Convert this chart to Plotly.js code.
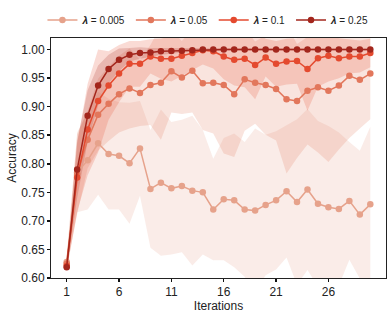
<!DOCTYPE html>
<html>
<head>
<meta charset="utf-8">
<script src="https://cdn.plot.ly/plotly-3.0.1.min.js"></script>
<style>html,body{margin:0;padding:0;background:#fff;}#chart{width:391px;height:314px;}</style>
</head>
<body>
<div id="chart"></div>
<script>
const iterations = [1,2,3,4,5,6,7,8,9,10,11,12,13,14,15,16,17,18,19,20,21,22,23,24,25,26,27,28,29,30];
const seriesNames = ['<b><i>λ</i></b> = 0.005', '<b><i>λ</i></b> = 0.05', '<b><i>λ</i></b> = 0.1', '<b><i>λ</i></b> = 0.25'];
const acc0005 = [0.628,0.785,0.806,0.836,0.817,0.814,0.801,0.827,0.756,0.767,0.757,0.761,0.753,0.750,0.720,0.738,0.736,0.720,0.718,0.728,0.736,0.752,0.733,0.755,0.730,0.724,0.721,0.735,0.711,0.729];
const std0005 = [0.010,0.070,0.086,0.090,0.097,0.094,0.106,0.083,0.103,0.128,0.116,0.116,0.131,0.109,0.089,0.107,0.117,0.118,0.144,0.123,0.121,0.116,0.145,0.141,0.145,0.142,0.134,0.103,0.112,0.136];
const acc005 = [0.625,0.782,0.842,0.886,0.905,0.922,0.932,0.924,0.938,0.942,0.962,0.951,0.963,0.941,0.942,0.938,0.922,0.948,0.942,0.938,0.931,0.913,0.910,0.928,0.934,0.928,0.937,0.954,0.947,0.958];
const std005 = [0.010,0.070,0.050,0.063,0.065,0.067,0.070,0.058,0.070,0.100,0.072,0.064,0.073,0.082,0.089,0.120,0.110,0.090,0.072,0.087,0.090,0.130,0.100,0.094,0.114,0.125,0.112,0.109,0.085,0.080];
const acc01 = [0.621,0.776,0.860,0.910,0.937,0.958,0.975,0.975,0.988,0.984,0.984,0.989,0.994,0.999,0.997,0.988,0.982,0.984,0.973,0.986,0.975,0.979,0.980,0.966,0.985,0.989,0.985,0.988,0.988,0.994];
const std01 = [0.006,0.060,0.080,0.090,0.060,0.050,0.040,0.040,0.030,0.035,0.040,0.035,0.030,0.025,0.030,0.040,0.045,0.050,0.060,0.033,0.040,0.040,0.040,0.073,0.050,0.045,0.035,0.030,0.028,0.025];
const acc025 = [0.619,0.790,0.884,0.937,0.966,0.982,0.991,0.994,0.995,0.997,0.9975,0.998,0.999,1.000,1.000,1.000,1.000,1.000,1.000,1.000,1.000,1.000,1.000,1.000,1.000,1.000,1.000,1.000,1.000,1.000];
const std025 = [0.005,0.050,0.045,0.035,0.025,0.020,0.012,0.010,0.008,0.006,0.005,0.004,0.003,0.002,0.002,0.002,0.002,0.002,0.002,0.002,0.002,0.002,0.002,0.002,0.002,0.002,0.002,0.002,0.002,0.002];
const yTicks = [0.60,0.65,0.70,0.75,0.80,0.85,0.90,0.95,1.00];
const xTicks = [1,6,11,16,21,26];

const colors = ['#e6a28b','#e2775c','#e44a2f','#a3261c'];
const fills = ['rgba(230,162,139,0.2)','rgba(226,119,92,0.2)','rgba(228,74,47,0.2)','rgba(163,38,28,0.2)'];
const means = [acc0005, acc005, acc01, acc025];
const stds = [std0005, std005, std01, std025];

const traces = [];
means.forEach((m, i) => {
  const up = m.map((v, k) => v + stds[i][k]);
  const lo = m.map((v, k) => v - stds[i][k]);
  traces.push({x: iterations, y: up, type: 'scatter', mode: 'lines', line: {width: 0, color: fills[i]}, showlegend: false, hoverinfo: 'skip'});
  traces.push({x: iterations, y: lo, type: 'scatter', mode: 'lines', line: {width: 0, color: fills[i]}, fill: 'tonexty', fillcolor: fills[i], showlegend: false, hoverinfo: 'skip'});
});
means.forEach((m, i) => {
  traces.push({x: iterations, y: m, type: 'scatter', mode: 'lines+markers', name: seriesNames[i],
    line: {color: colors[i], width: 1.5}, marker: {color: colors[i], size: 6.5}});
});

const font = {family: 'Liberation Sans, Arial, Helvetica, sans-serif', size: 12, color: '#222'};
const layout = {
  width: 391, height: 314,
  margin: {l: 51, r: 5, t: 30, b: 36},
  paper_bgcolor: '#fff', plot_bgcolor: '#fff',
  font: font,
  showlegend: true,
  legend: {orientation: 'h', traceorder: 'normal', x: 0.47, xanchor: 'center', y: 1.075, yanchor: 'middle',
    font: {family: font.family, size: 10, color: '#222'}, itemwidth: 30, tracegroupgap: 0},
  xaxis: {range: [-0.5, 31.5], tickvals: xTicks, ticktext: xTicks.map(String), ticks: 'outside', ticklen: 3, tickwidth: 1.5,
    tickcolor: '#111', showline: true, linecolor: '#222', linewidth: 1, mirror: true, showgrid: false, zeroline: false,
    title: {text: 'Iterations', font: font, standoff: 1}},
  yaxis: {range: [0.60, 1.0203], tickvals: yTicks, ticktext: yTicks.map(v => v.toFixed(2)), ticks: 'outside', ticklen: 3, tickwidth: 1.5,
    tickcolor: '#111', showline: true, linecolor: '#222', linewidth: 1, mirror: true, showgrid: false, zeroline: false,
    title: {text: 'Accuracy', font: font, standoff: 2}}
};
Plotly.newPlot('chart', traces, layout, {displayModeBar: false, staticPlot: true});
</script>
</body>
</html>
